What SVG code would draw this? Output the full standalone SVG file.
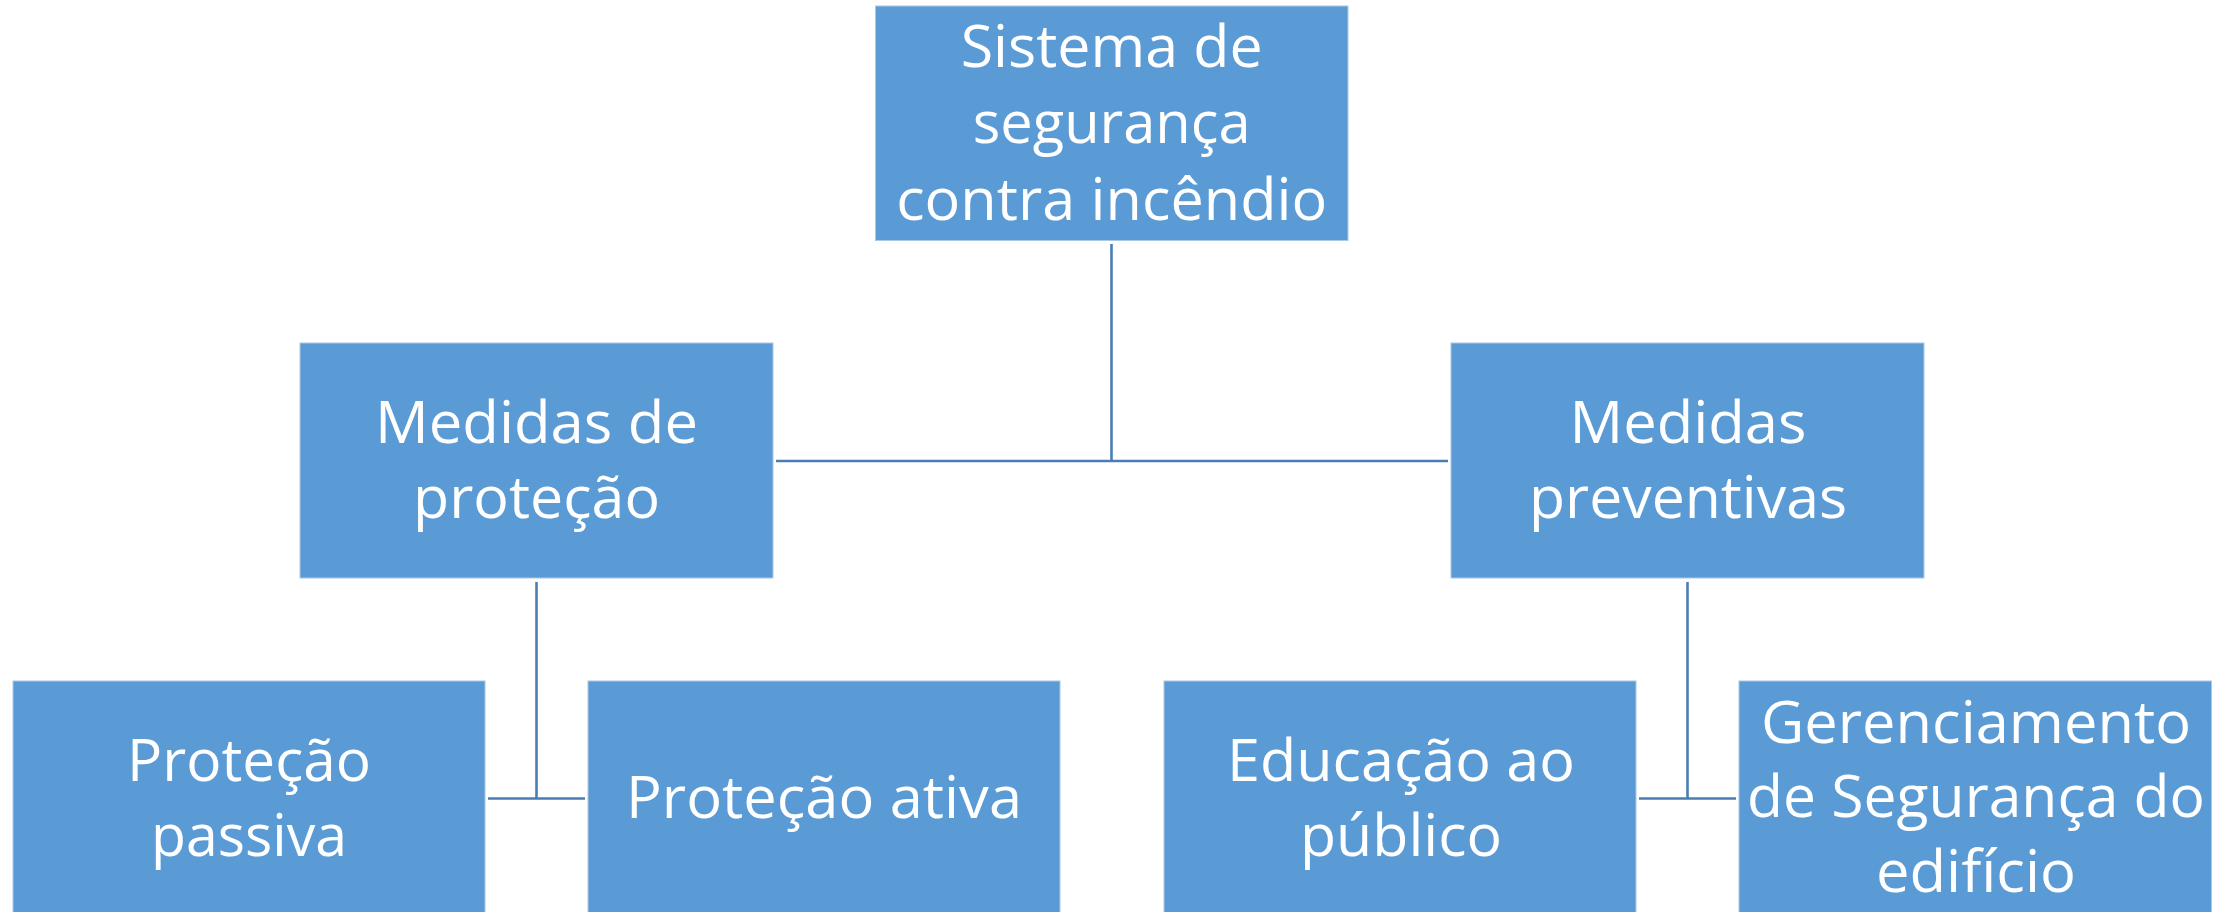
<svg xmlns="http://www.w3.org/2000/svg" width="2231" height="912" viewBox="0 0 2231 912">
<style>
.box{fill:#5B9BD5;stroke:#A9C8E8;stroke-width:1}
.lbl{font-family:"Open Sans","Noto Sans",sans-serif;font-size:59px;fill:#FFFFFF;text-anchor:middle}
.conn{stroke:#4A7DB3;stroke-width:2.6;fill:none}
</style>
<rect x="0" y="0" width="2231" height="912" fill="#FFFFFF"/>
<g id="connectors">
<line class="conn" x1="1111.5" y1="244" x2="1111.5" y2="461"/>
<line class="conn" x1="776" y1="461" x2="1448" y2="461"/>
<line class="conn" x1="536.5" y1="582" x2="536.5" y2="799"/>
<line class="conn" x1="488" y1="798.5" x2="585" y2="798.5"/>
<line class="conn" x1="1687.5" y1="582" x2="1687.5" y2="799"/>
<line class="conn" x1="1639" y1="798.5" x2="1736" y2="798.5"/>
</g>
<g id="node-sistema">
<rect class="box" x="875.5" y="6" width="472.5" height="234.5"/>
<text class="lbl" x="1111.7" y="67" textLength="302" lengthAdjust="spacingAndGlyphs">Sistema de</text>
<text class="lbl" x="1111.7" y="143" textLength="278" lengthAdjust="spacingAndGlyphs">segurança</text>
<text class="lbl" x="1111.7" y="220" textLength="431" lengthAdjust="spacingAndGlyphs">contra incêndio</text>
</g>
<g id="node-protecao">
<rect class="box" x="300" y="343" width="473" height="235"/>
<text class="lbl" x="536.5" y="443" textLength="323" lengthAdjust="spacingAndGlyphs">Medidas de</text>
<text class="lbl" x="536.5" y="518" textLength="247" lengthAdjust="spacingAndGlyphs">proteção</text>
</g>
<g id="node-preventivas">
<rect class="box" x="1451" y="343" width="473" height="235"/>
<text class="lbl" x="1688" y="443" textLength="237" lengthAdjust="spacingAndGlyphs">Medidas</text>
<text class="lbl" x="1688" y="518" textLength="318" lengthAdjust="spacingAndGlyphs">preventivas</text>
</g>
<g id="node-passiva">
<rect class="box" x="13" y="681" width="472" height="240"/>
<text class="lbl" x="249" y="781" textLength="244" lengthAdjust="spacingAndGlyphs">Proteção</text>
<text class="lbl" x="249" y="856" textLength="196" lengthAdjust="spacingAndGlyphs">passiva</text>
</g>
<g id="node-ativa">
<rect class="box" x="588" y="681" width="472" height="240"/>
<text class="lbl" x="824" y="818" textLength="396" lengthAdjust="spacingAndGlyphs">Proteção ativa</text>
</g>
<g id="node-educacao">
<rect class="box" x="1164" y="681" width="472" height="240"/>
<text class="lbl" x="1401" y="781" textLength="348" lengthAdjust="spacingAndGlyphs">Educação ao</text>
<text class="lbl" x="1401" y="856" textLength="202" lengthAdjust="spacingAndGlyphs">público</text>
</g>
<g id="node-gerenciamento">
<rect class="box" x="1739" y="681" width="472.5" height="240"/>
<text class="lbl" x="1976" y="743" textLength="430" lengthAdjust="spacingAndGlyphs">Gerenciamento</text>
<text class="lbl" x="1976" y="817" textLength="458" lengthAdjust="spacingAndGlyphs">de Segurança do</text>
<text class="lbl" x="1976" y="892" textLength="200" lengthAdjust="spacingAndGlyphs">edifício</text>
</g>
</svg>
